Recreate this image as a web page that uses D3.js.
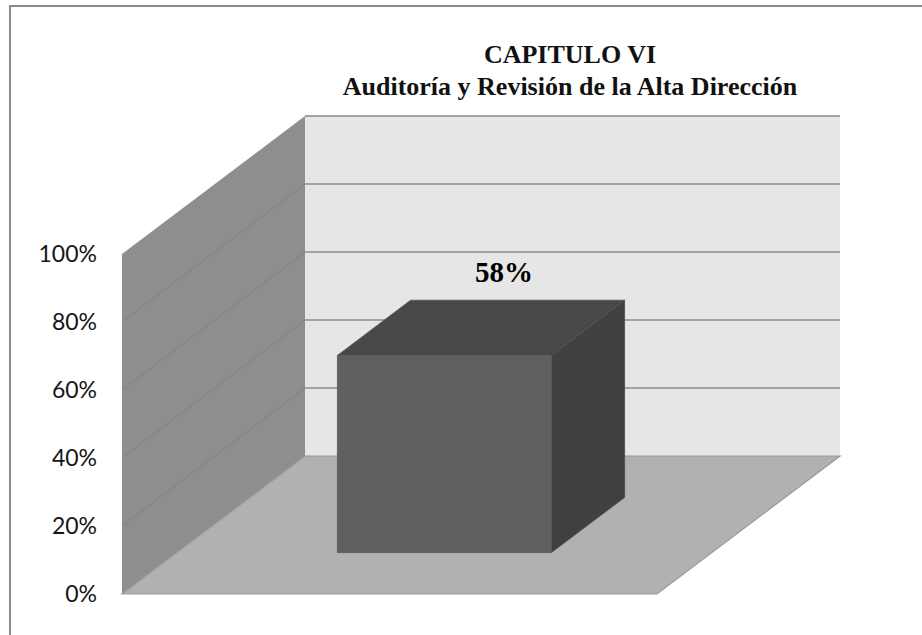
<!DOCTYPE html>
<html>
<head>
<meta charset="utf-8">
<script src="https://cdn.jsdelivr.net/npm/d3@7"></script>
<style>
  html, body { margin: 0; padding: 0; background: #ffffff; }
  svg { display: block; }
  .serif { font-family: "Liberation Serif", "DejaVu Serif", "Times New Roman", serif; font-weight: bold; }
</style>
</head>
<body>
<svg id="chart" width="922" height="635"></svg>
<script>
// Chart data
const titleLines = ["CAPITULO VI", "Auditoría y Revisión de la Alta Dirección"];
const categories = ["Auditoría y Revisión de la Alta Dirección"];
const values = [0.58];
const tickValues = [0, 0.2, 0.4, 0.6, 0.8, 1.0];

const svg = d3.select("#chart");

// Plot box: front-bottom-left corner, floor width, depth offset, height
const origin = { x: 122, y: 594 };
const plotW = 535, plotH = 340;
const depthDX = 183, depthDY = -138;

const xBand = d3.scaleBand().domain(categories).range([0, plotW]).paddingInner(0.4286).paddingOuter(0.4286);
const yVal = d3.scaleLinear().domain([0, 1]).range([0, plotH]);
const zDepth = d3.scaleLinear().domain([0, 1]).range([0, 1]);

// oblique projection of (x along floor, value, depth fraction)
function proj(x, v, z) {
  const zz = zDepth(z);
  return [origin.x + x + depthDX * zz, origin.y - yVal(v) + depthDY * zz];
}
const poly = pts => "M" + pts.map(p => p.join(",")).join("L") + "Z";

// outer frame (top and left edges)
svg.append("path")
  .attr("d", "M10,635V6H922")
  .attr("fill", "none").attr("stroke", "#8a8a8a").attr("stroke-width", 2);

// back wall
svg.append("path")
  .attr("d", poly([proj(0, 0, 1), proj(plotW, 0, 1), proj(plotW, 1, 1), proj(0, 1, 1)]))
  .attr("fill", "#e6e6e6");

// left wall
svg.append("path")
  .attr("d", poly([proj(0, 0, 0), proj(0, 0, 1), proj(0, 1, 1), proj(0, 1, 0)]))
  .attr("fill", "#8e8e8e");

// gridlines: back wall and left wall
const grid = svg.append("g");
tickValues.filter(t => t > 0).forEach(t => {
  const a = proj(0, t, 1), b = proj(plotW, t, 1), c = proj(0, t, 0);
  grid.append("line")
    .attr("x1", a[0]).attr("y1", a[1]).attr("x2", b[0]).attr("y2", b[1])
    .attr("stroke", "#a3a3a3").attr("stroke-width", 2);
  if (t < 1) {
    grid.append("line")
      .attr("x1", c[0]).attr("y1", c[1]).attr("x2", a[0]).attr("y2", a[1])
      .attr("stroke", "#808080").attr("stroke-width", 1);
  }
});

// floor
svg.append("path")
  .attr("d", poly([proj(0, 0, 0), proj(plotW, 0, 0), proj(plotW, 0, 1), proj(0, 0, 1)]))
  .attr("fill", "#b1b1b1").attr("stroke", "#9a9a9a").attr("stroke-width", 1.2);

// value axis on the front-left edge
const yAxisScale = d3.scaleLinear().domain([0, 1]).range([origin.y, origin.y - plotH]);
const axis = svg.append("g")
  .attr("transform", `translate(${origin.x},0)`)
  .call(d3.axisLeft(yAxisScale).tickValues(tickValues).tickFormat(d3.format(".0%")).tickSize(0).tickPadding(25));
axis.select(".domain").remove();
axis.selectAll("text")
  .attr("font-family", "Lato, 'Open Sans', sans-serif")
  .attr("font-size", 23)
  .attr("fill", "#161616");

// 3D columns
const zFront = 0.3, zBack = 0.7;
const bars = svg.append("g");
categories.forEach((c, i) => {
  const x0 = xBand(c), x1 = x0 + xBand.bandwidth(), v = values[i];
  // right side face
  bars.append("path")
    .attr("d", poly([proj(x1, 0, zFront), proj(x1, 0, zBack), proj(x1, v, zBack), proj(x1, v, zFront)]))
    .attr("fill", "#404040").attr("stroke", "#4a4a4a").attr("stroke-width", 0.8);
  // top face
  bars.append("path")
    .attr("d", poly([proj(x0, v, zFront), proj(x1, v, zFront), proj(x1, v, zBack), proj(x0, v, zBack)]))
    .attr("fill", "#484848").attr("stroke", "#555555").attr("stroke-width", 0.8);
  // front face
  bars.append("path")
    .attr("d", poly([proj(x0, 0, zFront), proj(x1, 0, zFront), proj(x1, v, zFront), proj(x0, v, zFront)]))
    .attr("fill", "#606060").attr("stroke", "#585858").attr("stroke-width", 0.8);
  // value label
  const lp = proj((x0 + x1) / 2, v, 0.625);
  bars.append("text")
    .attr("class", "serif")
    .attr("x", lp[0]).attr("y", lp[1] - 29)
    .attr("text-anchor", "middle")
    .attr("font-size", 29)
    .attr("fill", "#000")
    .text(d3.format(".0%")(v));
});

// title
const title = svg.append("text")
  .attr("class", "serif")
  .attr("text-anchor", "middle")
  .attr("font-size", 26)
  .attr("fill", "#111");
title.selectAll("tspan")
  .data(titleLines)
  .join("tspan")
  .attr("class", "serif")
  .attr("x", 570)
  .attr("y", (d, i) => 63 + i * 32)
  .text(d => d);
</script>
</body>
</html>
